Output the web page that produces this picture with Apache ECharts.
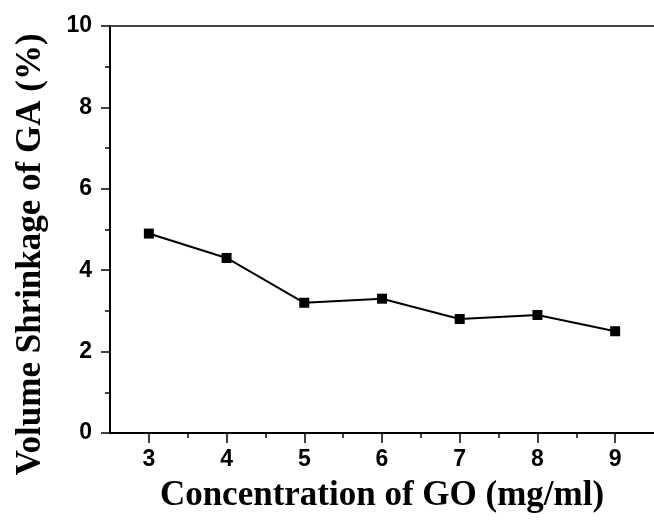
<!DOCTYPE html>
<html>
<head>
<meta charset="utf-8">
<script src="https://cdn.jsdelivr.net/npm/echarts@6/dist/echarts.min.js"></script>
<style>
  html, body { margin: 0; padding: 0; background: #fff; }
  #chart { width: 654px; height: 524px; }
</style>
</head>
<body>
<div id="chart"></div>
<script>
// GO concentration (mg/ml) and the resulting volume shrinkage of GA (%)
const concentration = [3, 4, 5, 6, 7, 8, 9];
const shrinkage = [4.9, 4.3, 3.2, 3.3, 2.8, 2.9, 2.5];
const xMinorTicks = [3.5, 4.5, 5.5, 6.5, 7.5, 8.5];

const chart = echarts.init(document.getElementById('chart'));
const tickFont = { fontFamily: 'Liberation Sans, Arial, sans-serif', fontWeight: 'bold', fontSize: 23, color: '#000' };
const titleFont = { fontFamily: 'Liberation Serif, Times New Roman, serif', fontWeight: 'bold', fontSize: 35, color: '#000' };

chart.setOption({
  animation: false,
  grid: { left: 110, right: -9, top: 26, bottom: 91, containLabel: false },
  xAxis: [{
    type: 'value', min: 2.5, max: 9.5,
    name: 'Concentration of GO (mg/ml)', nameLocation: 'middle', nameGap: 45,
    nameTextStyle: titleFont,
    axisLine: { onZero: false, lineStyle: { color: '#000', width: 2 } },
    axisTick: { show: true, length: 10, customValues: concentration, lineStyle: { color: '#000', width: 1.5 } },
    splitLine: { show: false },
    axisLabel: Object.assign({ margin: 15, customValues: concentration }, tickFont)
  }, {
    // half-step minor ticks along the bottom
    type: 'value', min: 2.5, max: 9.5, position: 'bottom',
    axisLine: { show: false },
    axisTick: { show: true, length: 5, customValues: xMinorTicks, lineStyle: { color: '#000', width: 1.5 } },
    axisLabel: { show: false }, splitLine: { show: false }
  }, {
    // closing frame line on top
    type: 'value', min: 2.5, max: 9.5, position: 'top',
    axisLine: { show: true, lineStyle: { color: '#444', width: 2 } },
    axisTick: { show: false }, axisLabel: { show: false }, splitLine: { show: false }
  }],
  yAxis: {
    type: 'value', min: 0, max: 10, interval: 2,
    name: 'Volume Shrinkage of GA (%)', nameLocation: 'middle', nameGap: 62, nameRotate: 90,
    nameTextStyle: Object.assign({ padding: [0, 50, 0, 0] }, titleFont),
    axisLine: { show: true, lineStyle: { color: '#000', width: 2 } },
    axisTick: { show: true, length: 9, lineStyle: { color: '#000', width: 1.5 } },
    minorTick: { show: true, splitNumber: 2, length: 5, lineStyle: { color: '#000', width: 1.5 } },
    splitLine: { show: false },
    axisLabel: Object.assign({ margin: 18 }, tickFont)
  },
  series: [{
    type: 'line',
    xAxisIndex: 0,
    data: concentration.map((c, i) => [c, shrinkage[i]]),
    symbol: 'rect', symbolSize: 10,
    lineStyle: { color: '#000', width: 2 },
    itemStyle: { color: '#000' }
  }]
});
</script>
</body>
</html>
